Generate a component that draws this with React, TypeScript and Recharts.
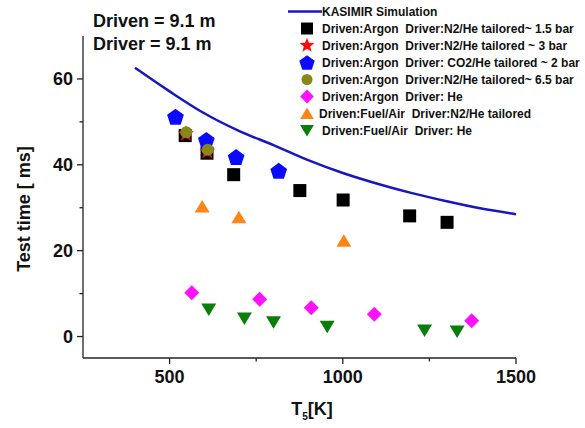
import React from 'react';
import { ComposedChart, XAxis, YAxis, Scatter, Line, Legend } from 'recharts';

// KASIMIR simulation curve
const simT = [400, 500, 600, 700, 800, 900, 1000, 1100, 1200, 1300, 1400, 1500];
const simTime = [62.6, 57.1, 52.0, 47.9, 44.6, 41.1, 38.1, 35.6, 33.4, 31.5, 29.8, 28.5];

// measured test times
const argonN2Low_T = [545, 608, 685, 876, 1001, 1193, 1301];
const argonN2Low_time = [46.8, 42.7, 37.7, 34.0, 31.8, 28.1, 26.6];
const argonN2Mid_T = [547, 609];
const argonN2Mid_time = [47.2, 43.1];
const argonCO2_T = [517, 606, 692, 815];
const argonCO2_time = [51.2, 45.8, 41.8, 38.6];
const argonN2High_T = [548, 610];
const argonN2High_time = [47.6, 43.5];
const argonHe_T = [564, 760, 909, 1091, 1372];
const argonHe_time = [10.2, 8.7, 6.7, 5.2, 3.7];
const fuelN2_T = [594, 700, 1003];
const fuelN2_time = [30.3, 27.8, 22.3];
const fuelHe_T = [613, 716, 800, 955, 1236, 1330];
const fuelHe_time = [6.3, 4.2, 3.3, 2.3, 1.4, 1.2];

const xTicks = [500, 750, 1000, 1250, 1500];
const yTicks = [0, 10, 20, 30, 40, 50, 60];

const pts = (xs: number[], ys: number[]) => xs.map((x, i) => ({ x, y: ys[i] }));

type Kind = 'square' | 'star' | 'pentagon' | 'circle' | 'diamond' | 'triangle' | 'triangleDown';

const series: { name: string; kind: Kind; color: string; data: { x: number; y: number }[]; shift?: number }[] = [
  { name: 'Driven:Argon  Driver:N2/He tailored~ 1.5 bar', kind: 'square', color: '#000000', data: pts(argonN2Low_T, argonN2Low_time) },
  { name: 'Driven:Argon  Driver:N2/He tailored ~ 3 bar', kind: 'star', color: '#ff0a0a', data: pts(argonN2Mid_T, argonN2Mid_time) },
  { name: 'Driven:Argon  Driver: CO2/He tailored ~ 2 bar', kind: 'pentagon', color: '#0a0aff', data: pts(argonCO2_T, argonCO2_time) },
  { name: 'Driven:Argon  Driver:N2/He tailored~ 6.5 bar', kind: 'circle', color: '#87871a', data: pts(argonN2High_T, argonN2High_time) },
  { name: 'Driven:Argon  Driver: He', kind: 'diamond', color: '#ff10ff', data: pts(argonHe_T, argonHe_time) },
  { name: 'Driven:Fuel/Air  Driver:N2/He tailored', kind: 'triangle', color: '#ff8516', data: pts(fuelN2_T, fuelN2_time), shift: -3 },
  { name: 'Driven:Fuel/Air  Driver: He', kind: 'triangleDown', color: '#0b7d0b', data: pts(fuelHe_T, fuelHe_time) },
];

const simColor = '#1616c2';
const axisColor = '#222';
const font = "'Liberation Sans', Arial, sans-serif";

function polyPoints(cx: number, cy: number, n: number, rOut: number, rIn?: number) {
  const out: string[] = [];
  const count = rIn ? n * 2 : n;
  for (let i = 0; i < count; i++) {
    const r = rIn && i % 2 === 1 ? rIn : rOut;
    const a = -Math.PI / 2 + (i * 2 * Math.PI) / count;
    out.push(`${cx + r * Math.cos(a)},${cy + r * Math.sin(a)}`);
  }
  return out.join(' ');
}

function Marker({ kind, cx, cy, color, s = 1 }: { kind: Kind; cx: number; cy: number; color: string; s?: number }) {
  switch (kind) {
    case 'square':
      return <rect x={cx - 6.5 * s} y={cy - 6.5 * s} width={13 * s} height={13 * s} fill={color} />;
    case 'star':
      return <polygon points={polyPoints(cx, cy, 5, 8.5 * s, 3.6 * s)} fill={color} />;
    case 'pentagon':
      return <polygon points={polyPoints(cx, cy + 0.8 * s, 5, 8.8 * s)} fill={color} />;
    case 'circle':
      return <circle cx={cx} cy={cy} r={6 * s} fill={color} />;
    case 'diamond':
      return <polygon points={`${cx},${cy - 7.5 * s} ${cx + 7.5 * s},${cy} ${cx},${cy + 7.5 * s} ${cx - 7.5 * s},${cy}`} fill={color} />;
    case 'triangle':
      return <polygon points={`${cx},${cy - 6.5 * s} ${cx + 7.5 * s},${cy + 6 * s} ${cx - 7.5 * s},${cy + 6 * s}`} fill={color} />;
    case 'triangleDown':
      return <polygon points={`${cx - 7.5 * s},${cy - 6 * s} ${cx + 7.5 * s},${cy - 6 * s} ${cx},${cy + 6.5 * s}`} fill={color} />;
  }
  return null;
}

const YTick = ({ x, y, payload }: any) => {
  const major = payload.value % 20 === 0;
  return (
    <g>
      <line x1={x} x2={x - (major ? 6 : 3.5)} y1={y} y2={y} stroke={axisColor} strokeWidth={1.3} />
      {major && (
        <text x={x - 10} y={y} dy="0.36em" textAnchor="end" fontFamily={font} fontWeight="bold" fontSize={18} fill="#111">
          {payload.value}
        </text>
      )}
    </g>
  );
};

const XTick = ({ x, y, payload }: any) => {
  const major = payload.value % 500 === 0;
  return (
    <g>
      <line x1={x} x2={x} y1={y} y2={y + (major ? 6 : 3.5)} stroke={axisColor} strokeWidth={1.3} />
      {major && (
        <text x={x} y={y + 25} textAnchor="middle" fontFamily={font} fontWeight="bold" fontSize={18} fill="#111">
          {payload.value}
        </text>
      )}
    </g>
  );
};

const LegendBox = () => (
  <div style={{ fontFamily: font, fontWeight: 'bold', fontSize: 12, color: '#111' }}>
    <div style={{ display: 'flex', alignItems: 'center', height: 17 }}>
      <svg width={36} height={17}>
        <line x1={2} x2={36} y1={8.5} y2={8.5} stroke={simColor} strokeWidth={2.5} />
      </svg>
      <span style={{ whiteSpace: 'pre' }}>KASIMIR Simulation</span>
    </div>
    {series.map((s) => (
      <div key={s.name} style={{ display: 'flex', alignItems: 'center', height: 17 }}>
        <svg width={36} height={17} style={{ overflow: 'visible' }}>
          <Marker kind={s.kind} cx={21} cy={8.5} color={s.color} s={0.92} />
        </svg>
        <span style={{ whiteSpace: 'pre', marginLeft: s.shift ?? 0 }}>{s.name}</span>
      </div>
    ))}
  </div>
);

export default function App() {
  return (
    <div style={{ position: 'absolute', left: 0, top: 0, width: 585, height: 428, background: '#fff' }}>
      <ComposedChart width={585} height={428} margin={{ top: 36, right: 69, bottom: 0, left: 0 }}>
        <XAxis
          type="number"
          dataKey="x"
          domain={[250, 1500]}
          ticks={xTicks}
          interval={0}
          height={70}
          tickSize={0}
          tickMargin={0}
          tick={<XTick />}
          stroke={axisColor}
          strokeWidth={1.3}
          allowDataOverflow
        />
        <YAxis
          type="number"
          domain={[-5, 70]}
          ticks={yTicks}
          interval={0}
          width={83}
          tickSize={0}
          tickMargin={0}
          tick={<YTick />}
          stroke={axisColor}
          strokeWidth={1.3}
          allowDataOverflow
        />
        <Legend
          content={<LegendBox />}
          layout="vertical"
          verticalAlign="middle"
          align="center"
          wrapperStyle={{ left: 286, top: 3, width: 299 }}
        />
        <Line
          data={pts(simT, simTime)}
          dataKey="y"
          type="monotone"
          stroke={simColor}
          strokeWidth={2.5}
          dot={false}
          activeDot={false}
          legendType="none"
          isAnimationActive={false}
        />
        {series.map((s) => (
          <Scatter
            key={s.name}
            name={s.name}
            data={s.data}
            dataKey="y"
            isAnimationActive={false}
            shape={(p: any) => <Marker kind={s.kind} cx={p.cx} cy={p.cy} color={s.color} />}
          />
        ))}
      </ComposedChart>
      <svg width={585} height={428} style={{ position: 'absolute', left: 0, top: 0, pointerEvents: 'none' }}>
        <g fontFamily={font} fontWeight="bold" fill="#111" fontSize={18}>
          <text x={93} y={27}>Driven = 9.1 m</text>
          <text x={93} y={50}>Driver = 9.1 m</text>
          <text x={24} y={209} dy="0.36em" textAnchor="middle" transform="rotate(-90 24 209)">
            Test time [ ms]
          </text>
          <text x={312} y={415} textAnchor="middle">
            T<tspan dy={5} fontSize={10}>5</tspan>
            <tspan dy={-5}>[K]</tspan>
          </text>
        </g>
      </svg>
    </div>
  );
}
